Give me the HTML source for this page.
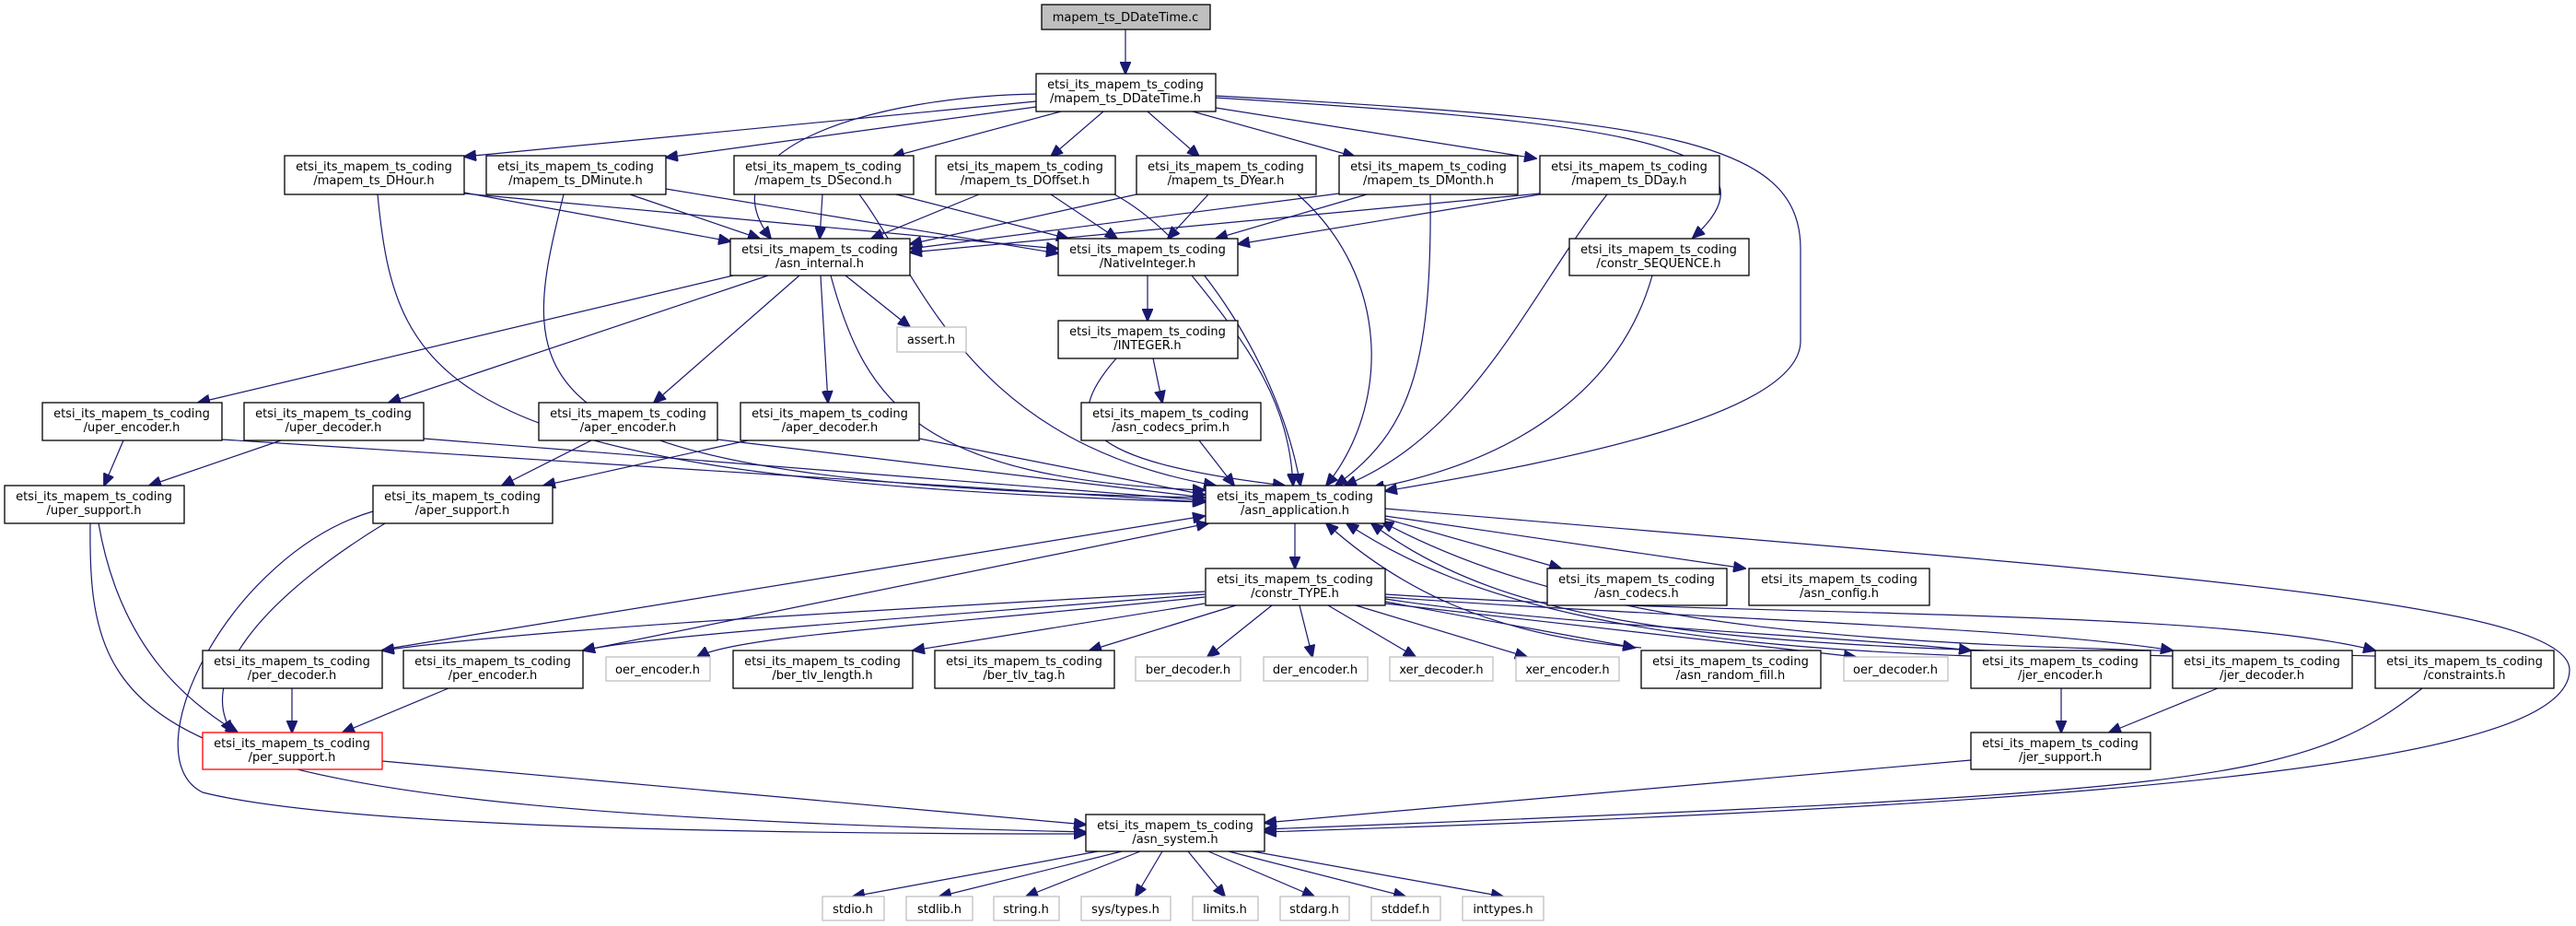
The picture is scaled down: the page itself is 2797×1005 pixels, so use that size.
<!DOCTYPE html>
<html><head><meta charset="utf-8"><style>
html,body{margin:0;padding:0;background:#fff;}
svg{display:block;}
text{font-family:"DejaVu Sans","Liberation Sans",sans-serif;font-size:13px;fill:#000;text-anchor:middle;}
.n{fill:#fff;stroke:#000;stroke-width:1.3;}
.g{fill:#fff;stroke:#bfbfbf;stroke-width:1.3;}
.r{fill:#fff;stroke:#ff0000;stroke-width:1.3;}
.e path{fill:none;stroke:#191970;stroke-width:1.2;marker-end:url(#a);}
</style></head><body>
<svg width="2797" height="1005" viewBox="0 0 2797 1005" xmlns="http://www.w3.org/2000/svg">
<defs><marker id="a" markerUnits="userSpaceOnUse" markerWidth="14" markerHeight="12" viewBox="0 0 14 12" refX="13" refY="6" orient="auto"><path d="M0,0 L14,6 L0,12 z" fill="#191970" stroke="#191970"/></marker></defs>
<g class="e">
<path d="M1222,32 L1222,80"/>
<path d="M1125,110 L504,170"/>
<path d="M1125,116 L723,171"/>
<path d="M1152,121 L969,170"/>
<path d="M1198,121 L1141,170"/>
<path d="M1246,121 L1302,170"/>
<path d="M1295,121 L1471,170"/>
<path d="M1320,117 L1668,172"/>
<path d="M1125,102 C950,105 760,160 837,259"/>
<path d="M1320,106 C1700,130 1960,150 1838,258"/>
<path d="M1320,104 C1800,130 1955,150 1955,270 L1955,370 C1955,450 1700,500 1504,533"/>
<path d="M504,209 L793,262"/>
<path d="M504,210 L1149,270"/>
<path d="M410,211 C430,420 480,520 1308,545"/>
<path d="M684,211 L825,259"/>
<path d="M723,205 L1149,275"/>
<path d="M612,211 C560,420 540,525 1308,540"/>
<path d="M893,211 L890,259"/>
<path d="M973,211 L1160,259"/>
<path d="M933,211 C1000,300 1050,480 1320,527"/>
<path d="M1063,211 L946,259"/>
<path d="M1141,211 L1213,259"/>
<path d="M1210,211 C1300,260 1390,400 1412,527"/>
<path d="M1234,211 L988,265"/>
<path d="M1312,211 L1268,259"/>
<path d="M1409,211 C1510,300 1510,440 1440,527"/>
<path d="M1454,210 L988,270"/>
<path d="M1484,211 L1320,259"/>
<path d="M1553,211 C1555,400 1530,470 1450,527"/>
<path d="M1672,210 L988,274"/>
<path d="M1672,211 L1344,265"/>
<path d="M1745,211 C1660,320 1600,470 1460,527"/>
<path d="M1794,299 C1760,420 1650,500 1490,530"/>
<path d="M796,299 L215,437"/>
<path d="M834,299 L422,437"/>
<path d="M868,299 L710,437"/>
<path d="M891,299 L899,437"/>
<path d="M918,299 L988,355"/>
<path d="M902,299 C940,440 1000,520 1308,532"/>
<path d="M1246,299 L1246,348"/>
<path d="M1294,299 C1360,380 1400,440 1404,527"/>
<path d="M1252,389 L1262,437"/>
<path d="M1212,389 C1150,460 1170,500 1395,527"/>
<path d="M1302,478 L1340,527"/>
<path d="M134,478 L113,527"/>
<path d="M241,477 L1308,545"/>
<path d="M305,478 L162,527"/>
<path d="M460,476 L1308,543"/>
<path d="M642,478 L545,527"/>
<path d="M779,477 L1308,540"/>
<path d="M812,478 L590,527"/>
<path d="M998,476 L1308,537"/>
<path d="M107,568 C130,700 200,760 258,795"/>
<path d="M98,568 C95,800 150,880 1179,903"/>
<path d="M405,555 C250,600 140,820 220,860 Q400,905 1179,905"/>
<path d="M418,568 C300,640 210,730 252,795"/>
<path d="M317,747 L317,795"/>
<path d="M487,747 L372,795"/>
<path d="M415,705 L1308,560"/>
<path d="M633,706 L1312,568"/>
<path d="M415,826 L1179,895"/>
<path d="M1308,642 C1000,660 600,680 415,706"/>
<path d="M1308,645 C1000,670 700,690 633,706"/>
<path d="M1308,648 C1000,680 800,690 757,713"/>
<path d="M1308,655 L991,706"/>
<path d="M1342,657 L1183,706"/>
<path d="M1381,657 L1311,713"/>
<path d="M1411,657 L1425,713"/>
<path d="M1442,657 L1537,713"/>
<path d="M1472,657 L1658,713"/>
<path d="M1504,653 L1775,703"/>
<path d="M1504,655 L2015,713"/>
<path d="M1504,650 C1700,680 2000,690 2140,706"/>
<path d="M1504,648 C1800,670 2200,680 2359,706"/>
<path d="M1504,645 C1900,670 2400,660 2579,706"/>
<path d="M1782,703 C1620,690 1520,640 1440,568"/>
<path d="M2140,712 C1800,700 1600,660 1462,568"/>
<path d="M2359,712 C1900,700 1650,690 1489,568"/>
<path d="M2579,712 C2100,700 1750,700 1500,566"/>
<path d="M1406,568 L1406,617"/>
<path d="M1504,563 L1695,617"/>
<path d="M1504,560 L1895,617"/>
<path d="M1504,552 C2300,620 2790,650 2790,727 C2790,820 2400,870 1373,903"/>
<path d="M2238,747 L2238,795"/>
<path d="M2408,747 L2290,795"/>
<path d="M2630,747 C2500,850 2400,860 1373,900"/>
<path d="M2140,825 L1373,893"/>
<path d="M1192,924 L926,973"/>
<path d="M1218,924 L1020,973"/>
<path d="M1238,924 L1114,973"/>
<path d="M1262,924 L1233,973"/>
<path d="M1290,924 L1330,973"/>
<path d="M1312,924 L1427,973"/>
<path d="M1334,924 L1526,973"/>
<path d="M1360,924 L1632,973"/>
</g>
<g>
<rect x="1131" y="5" width="183" height="27" fill="#bfbfbf" stroke="#000" stroke-width="1.3"/><text x="1222" y="23">mapem_ts_DDateTime.c</text>
<rect class="n" x="1125" y="80" width="195" height="41"/><text x="1222" y="96">etsi_its_mapem_ts_coding</text><text x="1222" y="111">/mapem_ts_DDateTime.h</text>
<rect class="n" x="309" y="169" width="195" height="42"/><text x="406" y="185">etsi_its_mapem_ts_coding</text><text x="406" y="200">/mapem_ts_DHour.h</text>
<rect class="n" x="528" y="169" width="195" height="42"/><text x="625" y="185">etsi_its_mapem_ts_coding</text><text x="625" y="200">/mapem_ts_DMinute.h</text>
<rect class="n" x="797" y="169" width="195" height="42"/><text x="894" y="185">etsi_its_mapem_ts_coding</text><text x="894" y="200">/mapem_ts_DSecond.h</text>
<rect class="n" x="1016" y="169" width="195" height="42"/><text x="1113" y="185">etsi_its_mapem_ts_coding</text><text x="1113" y="200">/mapem_ts_DOffset.h</text>
<rect class="n" x="1234" y="169" width="195" height="42"/><text x="1331" y="185">etsi_its_mapem_ts_coding</text><text x="1331" y="200">/mapem_ts_DYear.h</text>
<rect class="n" x="1454" y="169" width="194" height="42"/><text x="1551" y="185">etsi_its_mapem_ts_coding</text><text x="1551" y="200">/mapem_ts_DMonth.h</text>
<rect class="n" x="1672" y="169" width="195" height="42"/><text x="1769" y="185">etsi_its_mapem_ts_coding</text><text x="1769" y="200">/mapem_ts_DDay.h</text>
<rect class="n" x="793" y="259" width="195" height="40"/><text x="890" y="275">etsi_its_mapem_ts_coding</text><text x="890" y="290">/asn_internal.h</text>
<rect class="n" x="1149" y="259" width="195" height="40"/><text x="1246" y="275">etsi_its_mapem_ts_coding</text><text x="1246" y="290">/NativeInteger.h</text>
<rect class="n" x="1704" y="259" width="195" height="40"/><text x="1801" y="275">etsi_its_mapem_ts_coding</text><text x="1801" y="290">/constr_SEQUENCE.h</text>
<rect class="g" x="974" y="355" width="75" height="27"/><text x="1011" y="373">assert.h</text>
<rect class="n" x="1149" y="348" width="195" height="41"/><text x="1246" y="364">etsi_its_mapem_ts_coding</text><text x="1246" y="379">/INTEGER.h</text>
<rect class="n" x="46" y="437" width="195" height="41"/><text x="143" y="453">etsi_its_mapem_ts_coding</text><text x="143" y="468">/uper_encoder.h</text>
<rect class="n" x="265" y="437" width="195" height="41"/><text x="362" y="453">etsi_its_mapem_ts_coding</text><text x="362" y="468">/uper_decoder.h</text>
<rect class="n" x="585" y="437" width="194" height="41"/><text x="682" y="453">etsi_its_mapem_ts_coding</text><text x="682" y="468">/aper_encoder.h</text>
<rect class="n" x="804" y="437" width="194" height="41"/><text x="901" y="453">etsi_its_mapem_ts_coding</text><text x="901" y="468">/aper_decoder.h</text>
<rect class="n" x="1174" y="437" width="195" height="41"/><text x="1271" y="453">etsi_its_mapem_ts_coding</text><text x="1271" y="468">/asn_codecs_prim.h</text>
<rect class="n" x="5" y="527" width="195" height="41"/><text x="102" y="543">etsi_its_mapem_ts_coding</text><text x="102" y="558">/uper_support.h</text>
<rect class="n" x="405" y="527" width="195" height="41"/><text x="502" y="543">etsi_its_mapem_ts_coding</text><text x="502" y="558">/aper_support.h</text>
<rect class="n" x="1309" y="527" width="195" height="41"/><text x="1406" y="543">etsi_its_mapem_ts_coding</text><text x="1406" y="558">/asn_application.h</text>
<rect class="n" x="1309" y="617" width="195" height="40"/><text x="1406" y="633">etsi_its_mapem_ts_coding</text><text x="1406" y="648">/constr_TYPE.h</text>
<rect class="n" x="1680" y="617" width="195" height="40"/><text x="1777" y="633">etsi_its_mapem_ts_coding</text><text x="1777" y="648">/asn_codecs.h</text>
<rect class="n" x="1899" y="617" width="196" height="40"/><text x="1997" y="633">etsi_its_mapem_ts_coding</text><text x="1997" y="648">/asn_config.h</text>
<rect class="n" x="220" y="706" width="195" height="41"/><text x="317" y="722">etsi_its_mapem_ts_coding</text><text x="317" y="737">/per_decoder.h</text>
<rect class="n" x="438" y="706" width="195" height="41"/><text x="535" y="722">etsi_its_mapem_ts_coding</text><text x="535" y="737">/per_encoder.h</text>
<rect class="g" x="658" y="713" width="113" height="26"/><text x="714" y="731">oer_encoder.h</text>
<rect class="n" x="796" y="706" width="195" height="41"/><text x="893" y="722">etsi_its_mapem_ts_coding</text><text x="893" y="737">/ber_tlv_length.h</text>
<rect class="n" x="1015" y="706" width="195" height="41"/><text x="1112" y="722">etsi_its_mapem_ts_coding</text><text x="1112" y="737">/ber_tlv_tag.h</text>
<rect class="g" x="1233" y="713" width="114" height="26"/><text x="1290" y="731">ber_decoder.h</text>
<rect class="g" x="1372" y="713" width="113" height="26"/><text x="1428" y="731">der_encoder.h</text>
<rect class="g" x="1509" y="713" width="112" height="26"/><text x="1565" y="731">xer_decoder.h</text>
<rect class="g" x="1646" y="713" width="112" height="26"/><text x="1702" y="731">xer_encoder.h</text>
<rect class="n" x="1782" y="706" width="195" height="41"/><text x="1879" y="722">etsi_its_mapem_ts_coding</text><text x="1879" y="737">/asn_random_fill.h</text>
<rect class="g" x="2002" y="713" width="113" height="26"/><text x="2058" y="731">oer_decoder.h</text>
<rect class="n" x="2140" y="706" width="195" height="41"/><text x="2237" y="722">etsi_its_mapem_ts_coding</text><text x="2237" y="737">/jer_encoder.h</text>
<rect class="n" x="2359" y="706" width="195" height="41"/><text x="2456" y="722">etsi_its_mapem_ts_coding</text><text x="2456" y="737">/jer_decoder.h</text>
<rect class="n" x="2579" y="706" width="194" height="41"/><text x="2676" y="722">etsi_its_mapem_ts_coding</text><text x="2676" y="737">/constraints.h</text>
<rect class="r" x="220" y="795" width="195" height="40"/><text x="317" y="811">etsi_its_mapem_ts_coding</text><text x="317" y="826">/per_support.h</text>
<rect class="n" x="2140" y="795" width="195" height="40"/><text x="2237" y="811">etsi_its_mapem_ts_coding</text><text x="2237" y="826">/jer_support.h</text>
<rect class="n" x="1179" y="884" width="194" height="40"/><text x="1276" y="900">etsi_its_mapem_ts_coding</text><text x="1276" y="915">/asn_system.h</text>
<rect class="g" x="893" y="973" width="67" height="26"/><text x="926" y="991">stdio.h</text>
<rect class="g" x="984" y="973" width="72" height="26"/><text x="1020" y="991">stdlib.h</text>
<rect class="g" x="1079" y="973" width="71" height="26"/><text x="1114" y="991">string.h</text>
<rect class="g" x="1174" y="973" width="97" height="26"/><text x="1222" y="991">sys/types.h</text>
<rect class="g" x="1295" y="973" width="71" height="26"/><text x="1330" y="991">limits.h</text>
<rect class="g" x="1390" y="973" width="75" height="26"/><text x="1427" y="991">stdarg.h</text>
<rect class="g" x="1489" y="973" width="75" height="26"/><text x="1526" y="991">stddef.h</text>
<rect class="g" x="1588" y="973" width="88" height="26"/><text x="1632" y="991">inttypes.h</text>
</g>
</svg>
</body></html>
